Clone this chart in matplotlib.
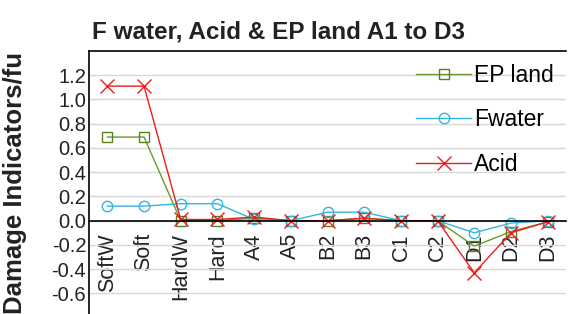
import numpy as np
import matplotlib.pyplot as plt

plt.rcParams['font.family'] = ['Liberation Sans', 'DejaVu Sans']

# %% data
categories = ["SoftW", "Soft", "HardW", "Hard", "A4", "A5", "B2", "B3",
              "C1", "C2", "D1", "D2", "D3"]
ep_land = [0.69, 0.69, 0.0, 0.0, 0.02, 0.0, 0.0, 0.02, 0.0, 0.0, -0.21, -0.09, -0.01]
fwater = [0.12, 0.12, 0.14, 0.14, 0.01, 0.0, 0.07, 0.07, 0.0, 0.0, -0.10, -0.02, 0.0]
acid = [1.11, 1.11, 0.01, 0.01, 0.03, 0.0, 0.0, 0.02, 0.0, 0.0, -0.43, -0.10, -0.01]
yticks = [1.2, 1.0, 0.8, 0.6, 0.4, 0.2, 0.0, -0.2, -0.4, -0.6]

# %% figure
fig = plt.figure(figsize=(5.68, 3.14), dpi=100)
ax = fig.add_axes([89 / 568, 0.0, 477 / 568, 263 / 314])

# zero line acts as the x axis; moving the spine resets ticks, so do it first
ax.spines["bottom"].set_position(("data", 0))
ax.spines["right"].set_visible(False)
for s in ("left", "top", "bottom"):
    ax.spines[s].set_color("black")
    ax.spines[s].set_linewidth(1.2)

x = np.arange(len(categories))
ax.plot(x, ep_land, color="#6a9a2a", lw=1, marker="s", ms=7.5, mfc="none",
        mec="#5a8020", mew=1, label="EP land")
ax.plot(x, fwater, color="#33b5e0", lw=1, marker="o", ms=7.5, mfc="none",
        mew=1, label="Fwater")
ax.plot(x, acid, color="#ee1c1c", lw=1, marker="x", ms=10, mew=1,
        label="Acid")

ax.set_xlim(-0.5, len(categories) - 0.5)
ax.set_ylim(-0.77, 1.4)
ax.set_yticks(yticks)
ax.set_yticklabels([f"{v:.1f}" for v in yticks])
ax.set_xticks(x)
ax.set_xticklabels(categories)
ax.grid(axis="y", color="#d8d8d8", lw=1)
ax.set_axisbelow(True)
ax.tick_params(axis="y", length=0, labelsize=14.5, colors="#222222", pad=2)
ax.tick_params(axis="x", length=0, labelsize=15.5, colors="#222222", pad=9,
               labelrotation=90)

ax.set_ylabel("Damage Indicators/fu", fontsize=18.5, fontweight="bold",
              color="#222222")
ax.yaxis.set_label_coords(-0.13, 0.5)
fig.text(92 / 568, 1 - 38 / 314, "F water, Acid & EP land A1 to D3",
         fontsize=17.5, fontweight="bold", color="#222222", va="baseline")

ax.legend(loc="upper right", frameon=False, fontsize=16.5, labelspacing=0.95,
          handlelength=2.4, handletextpad=0.1, borderaxespad=0.15)

fig.savefig("out.png", dpi=100)
